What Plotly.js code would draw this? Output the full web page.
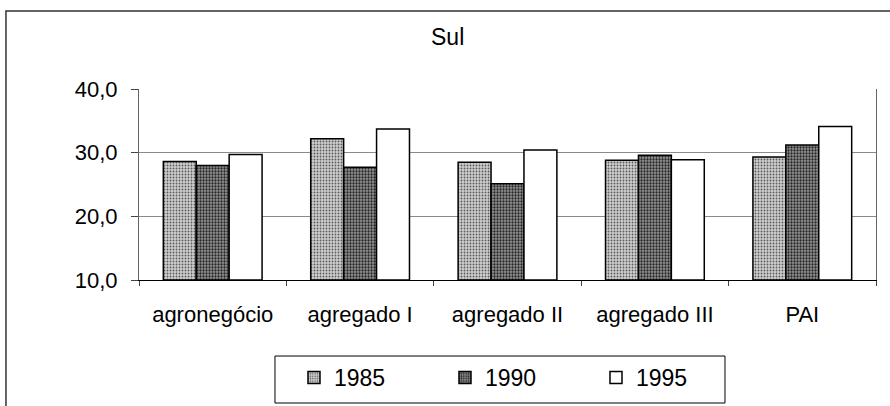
<!DOCTYPE html>
<html>
<head>
<meta charset="utf-8">
<script src="https://cdn.plot.ly/plotly-3.0.1.min.js"></script>
<style>
html,body{margin:0;padding:0;background:#fff;}
#chart{width:890px;height:406px;}
</style>
</head>
<body>
<div id="chart"></div>
<script>
var categories = ["agronegócio", "agregado I", "agregado II", "agregado III", "PAI"];
var seriesNames = ["1985", "1990", "1995"];
var v1985 = [28.6, 32.2, 28.5, 28.8, 29.3];
var v1990 = [28.0, 27.7, 25.1, 29.6, 31.2];
var v1995 = [29.7, 33.7, 30.4, 28.9, 34.1];
var yTickVals = [10, 20, 30, 40];
var yTickText = ["10,0", "20,0", "30,0", "40,0"];
var yGridVals = [20, 30];
var chartTitle = "Sul";
var axisBase = 10;

var FONT = "Liberation Sans, Arial, sans-serif";

function barTrace(name, vals, pattern) {
  var m = {color: pattern.bg, line: {color: "#000", width: 1.5}};
  if (pattern.shape) {
    m.pattern = {shape: pattern.shape, fgcolor: pattern.fg, bgcolor: pattern.bg, size: pattern.size, solidity: pattern.solidity, fillmode: "replace"};
  }
  return {
    type: "bar",
    name: name,
    x: categories,
    y: vals.map(function(v){ return v - axisBase; }),
    base: axisBase,
    customdata: vals,
    hovertemplate: "%{x}: %{customdata}<extra>" + name + "</extra>",
    marker: m
  };
}

var traces = [
  barTrace(seriesNames[0], v1985, {shape: ".", fg: "#5a5a5a", bg: "#cfcfcf", size: 3, solidity: 0.3}),
  barTrace(seriesNames[1], v1990, {shape: ".", fg: "#262626", bg: "#959595", size: 3, solidity: 0.45}),
  barTrace(seriesNames[2], v1995, {bg: "#ffffff"})
];

var layout = {
  width: 890,
  height: 406,
  paper_bgcolor: "#fff",
  plot_bgcolor: "#fff",
  font: {family: FONT, color: "#000"},
  margin: {l: 139, r: 14, t: 89, b: 126, autoexpand: false},
  barmode: "group",
  bargap: 0.33,
  bargroupgap: 0,
  showlegend: true,
  title: {
    text: chartTitle,
    font: {family: FONT, size: 23, color: "#000"},
    x: 0.503, xref: "container", xanchor: "center",
    y: 0.91, yref: "container", yanchor: "middle",
    automargin: false
  },
  xaxis: {
    type: "category",
    tickson: "boundaries",
    ticks: "outside",
    ticklen: 5,
    tickcolor: "#444",
    showline: true,
    linecolor: "#000",
    linewidth: 1,
    showgrid: false,
    automargin: false,
    tickfont: {family: FONT, size: 22, color: "#000"},
    ticklabelstandoff: 15
  },
  yaxis: {
    range: [10, 40],
    tickvals: yTickVals,
    ticktext: yTickText,
    ticks: "outside",
    ticklen: 7,
    tickcolor: "#444",
    showline: true,
    mirror: true,
    linecolor: "#666",
    linewidth: 1,
    showgrid: false,
    zeroline: false,
    automargin: false,
    tickfont: {family: FONT, size: 22, color: "#000"},
    ticklabelstandoff: 9
  },
  yaxis2: {
    overlaying: "y",
    range: [10, 40],
    tickvals: yGridVals,
    showticklabels: false,
    ticks: "",
    showline: false,
    showgrid: true,
    gridcolor: "#8a8a8a",
    gridwidth: 1,
    zeroline: false,
    layer: "below traces"
  },
  legend: {
    orientation: "h",
    x: 0.2103, xanchor: "left",
    y: -0.398, yanchor: "top",
    borderwidth: 0,
    bgcolor: "rgba(0,0,0,0)",
    font: {family: FONT, size: 23, color: "#000"},
    entrywidth: 106,
    entrywidthmode: "pixels",
    traceorder: "normal"
  },
  shapes: [
    {type: "rect", xref: "paper", yref: "paper", x0: -0.1805, x1: 1.1, y0: -0.8, y1: 1.408,
     line: {color: "#333", width: 1.5}, fillcolor: "rgba(0,0,0,0)", layer: "below"},
    {type: "rect", xref: "paper", yref: "paper", x0: 0.1845, x1: 0.7951, y0: -0.644, y1: -0.398,
     line: {color: "#000", width: 1}, fillcolor: "rgba(0,0,0,0)", layer: "below"}
  ]
};

// invisible helper trace so the grid axis (yaxis2) is drawn
traces.push({type: "scatter", x: [categories[0]], y: [axisBase], yaxis: "y2", mode: "none", showlegend: false, hoverinfo: "skip"});

Plotly.newPlot("chart", traces, layout, {displayModeBar: false, staticPlot: true});
</script>
</body>
</html>
